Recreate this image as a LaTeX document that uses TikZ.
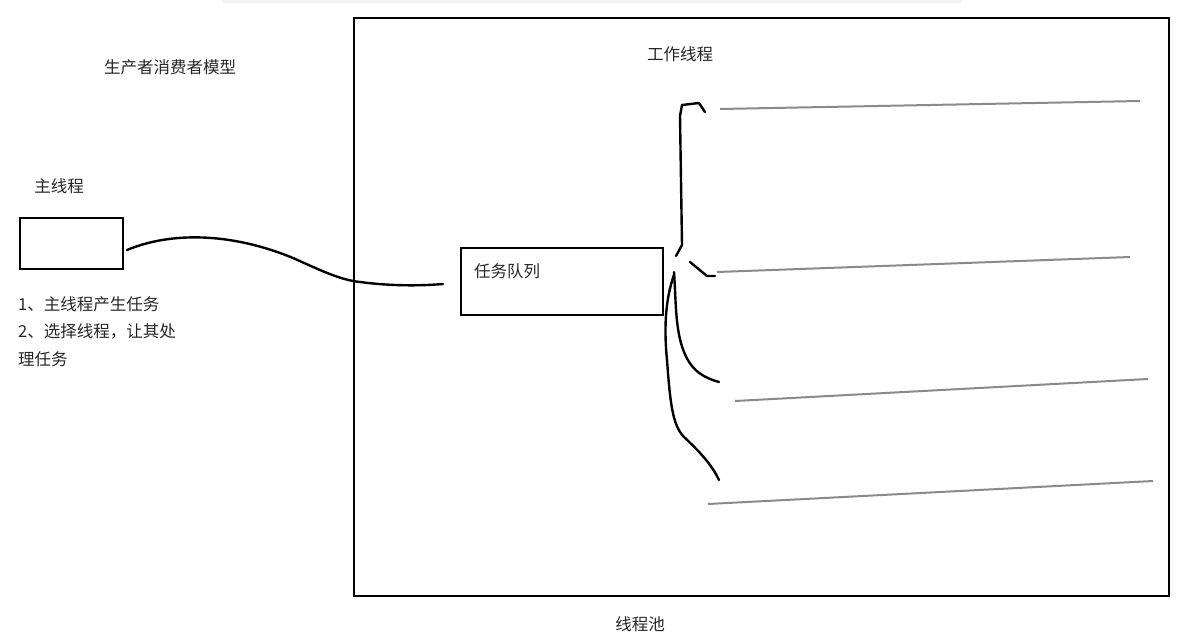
\documentclass[tikz,border=0pt]{standalone}
\usepackage{fontspec}
\newfontfamily\cjk{Noto Sans CJK SC}
\definecolor{threadgray}{HTML}{8A8A8A}
\definecolor{shadow}{HTML}{F2F2F2}
\begin{document}
\begin{tikzpicture}[x=1pt,y=-1pt,
  box/.style={draw=black,line width=2pt,inner sep=0pt,anchor=north west},
  lbl/.style={font=\cjk\fontsize{16.5}{27.5}\selectfont,inner sep=0pt,text=black!85},
  stroke/.style={draw=black,line width=2.4pt,line cap=round,line join=round},
  thread/.style={draw=threadgray,line width=2pt}]
\useasboundingbox (0,0) rectangle (1177,637);
\fill[shadow] (222,0) rectangle (962,3);
% boxes
\node[box,minimum width=815pt,minimum height=578pt] (pool) at (353,17) {};
\node[box,minimum width=103pt,minimum height=51pt] (mainbox) at (19,217) {};
\node[box,minimum width=202pt,minimum height=67pt] (queue) at (460,247) {};
% labels
\node[lbl] (title) at (170,67) {生产者消费者模型};
\node[lbl] (worker) at (680,54) {工作线程};
\node[lbl] (mainlbl) at (59,186) {主线程};
\node[lbl] (poollbl) at (640,624) {线程池};
\node[lbl,anchor=west] (queuelbl) at (474,271) {任务队列};
\node[lbl,anchor=north west,align=left] (steps) at (18,296) {1、主线程产生任务\\2、选择线程，让其处\\理任务};
% connector main thread -> queue
\coordinate (c0) at (127,250);
\coordinate (c1) at (443,284);
\draw[stroke] (c0) .. controls (170,232) and (230,232) .. (293,258)
  .. controls (320,270) and (340,280) .. (360,282)
  .. controls (390,286) and (420,286) .. (c1);
% bracket and branches
\draw[stroke] (705,112) -- (699,103) -- (682,105) -- (680,116) -- (682,245) -- (676,256);
\draw[stroke] (690,262) -- (707,276) -- (715,276);
\draw[stroke] (674,272) .. controls (676,300) and (675,330) .. (684,352)
  .. controls (692,372) and (705,378) .. (719,382);
\draw[stroke] (674,275) .. controls (665,300) and (664,330) .. (667,360)
  .. controls (670,400) and (672,425) .. (684,437)
  .. controls (700,452) and (712,465) .. (719,480);
% threads
\draw[thread] (720,109) -- (1140,101);
\draw[thread] (717,272) -- (1130,257);
\draw[thread] (735,401) -- (1148,379);
\draw[thread] (708,504) -- (1153,481);
\end{tikzpicture}
\end{document}
